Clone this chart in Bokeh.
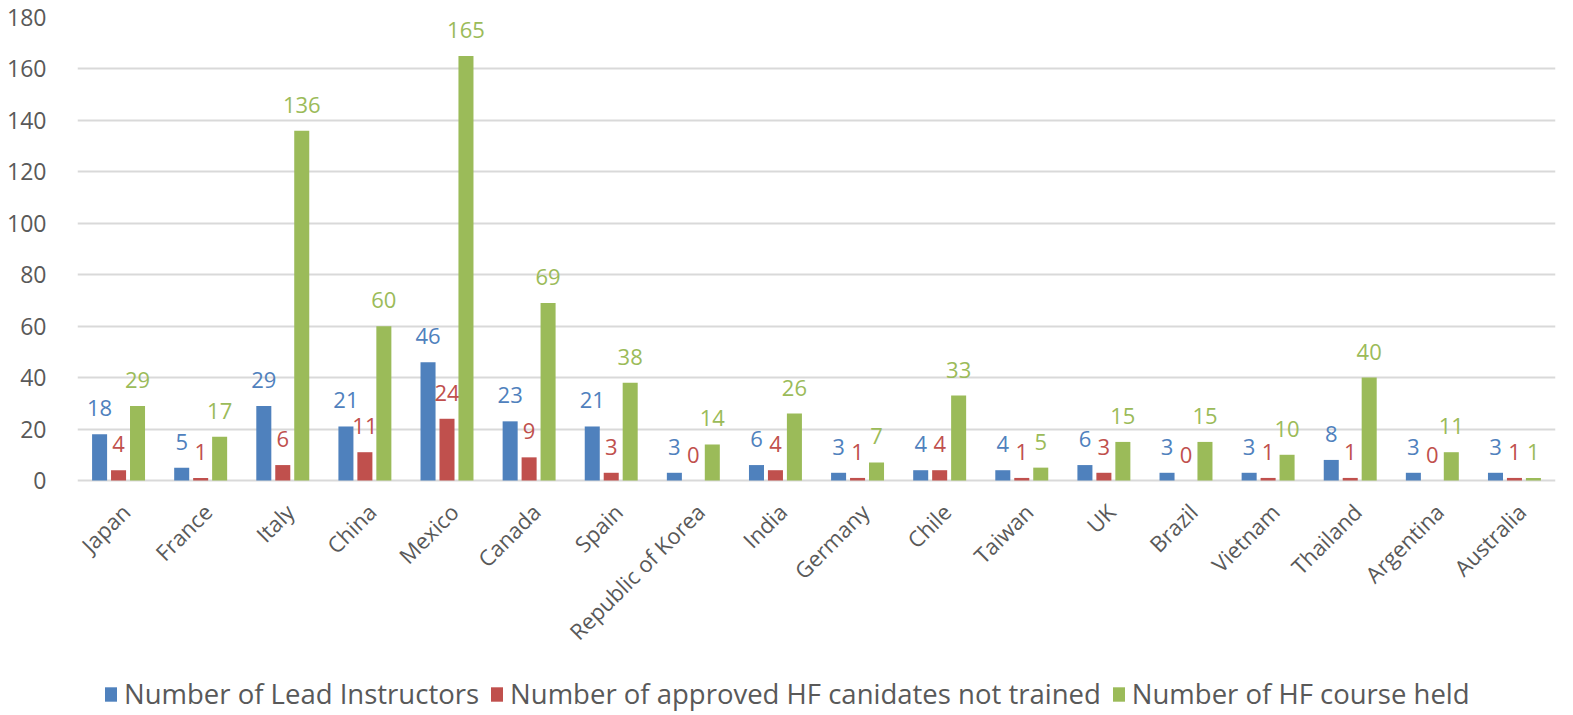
import math
from bokeh.plotting import figure
from bokeh.models import ColumnDataSource, Range1d, Legend, LegendItem, FixedTicker
from bokeh.transform import dodge
from bokeh.core.properties import value
from bokeh.embed import file_html
from bokeh.resources import INLINE

countries = ["Japan", "France", "Italy", "China", "Mexico", "Canada", "Spain",
             "Republic of Korea", "India", "Germany", "Chile", "Taiwan", "UK",
             "Brazil", "Vietnam", "Thailand", "Argentina", "Australia"]
lead_instructors = [18, 5, 29, 21, 46, 23, 21, 3, 6, 3, 4, 4, 6, 3, 3, 8, 3, 3]
not_trained = [4, 1, 6, 11, 24, 9, 3, 0, 4, 1, 4, 1, 3, 0, 1, 1, 0, 1]
courses_held = [29, 17, 136, 60, 165, 69, 38, 14, 26, 7, 33, 5, 15, 15, 10, 40, 11, 1]
y_ticks = list(range(0, 181, 20))
series_names = ["Number of Lead Instructors",
                "Number of approved HF canidates not trained",
                "Number of HF course held"]
colors = ["#4F81BD", "#C0504D", "#9BBB59"]

FONT = "Open Sans"
GRAY = "#595959"

n = len(countries)
src = ColumnDataSource(dict(
    x=list(range(n)),
    name=countries,
    a=lead_instructors, b=not_trained, c=courses_held,
    at=[str(v) for v in lead_instructors],
    bt=[str(v) for v in not_trained],
    ct=[str(v) for v in courses_held],
))

# frame reaches the page bottom so that category labels and legend can live inside it;
# value 0 sits 235 px above the frame bottom, 180 at the frame top (463 px for 180 units)
W, H, TOP, LEFT, RIGHT = 1573, 715, 17, 77, 18
px_per_unit = 463 / 180
y_min = -(H - TOP - 463) / px_per_unit

p = figure(width=W, height=H, x_range=Range1d(-0.5, n - 0.5),
           y_range=Range1d(y_min, 180), output_backend="svg", toolbar_location=None,
           x_axis_location=None,
           min_border_left=LEFT, min_border_right=RIGHT, min_border_top=TOP, min_border_bottom=0)
p.outline_line_color = None
p.background_fill_color = "white"

offs = [-0.231, 0.0, 0.231]
cols = ["a", "b", "c"]
tcols = ["at", "bt", "ct"]
renderers = []
for off, col, tcol, color in zip(offs, cols, tcols, colors):
    r = p.vbar(x=dodge("x", off), top=col, bottom=0, width=0.183, source=src,
               fill_color=color, line_color=None)
    renderers.append(r)
    p.text(x=dodge("x", off), y=col, text=tcol, source=src,
           text_color=color, text_font=value(FONT), text_font_size="22px",
           text_align="center", text_baseline="middle", y_offset=-26)

# rotated category labels
p.text(x="x", y=0, text="name", source=src, angle=math.pi / 4,
       text_align="right", text_baseline="middle", x_offset=7, y_offset=27,
       text_color=GRAY, text_font=value(FONT), text_font_size="22px")

p.yaxis.ticker = FixedTicker(ticks=y_ticks)
p.yaxis.axis_line_color = None
p.yaxis.major_tick_line_color = None
p.yaxis.minor_tick_line_color = None
p.yaxis.major_label_text_font = FONT
p.yaxis.major_label_text_font_size = "23px"
p.yaxis.major_label_text_color = GRAY
p.yaxis.major_label_standoff = 25

p.xgrid.grid_line_color = None
p.ygrid.grid_line_color = "#D9D9D9"
p.ygrid.grid_line_width = 2

legend = Legend(items=[LegendItem(label=s, renderers=[r]) for s, r in zip(series_names, renderers)],
                orientation="horizontal", location=(26, 3),
                label_text_font=FONT, label_text_font_size="27.5px", label_text_color=GRAY,
                glyph_width=15, glyph_height=18, spacing=10, label_standoff=6,
                border_line_color=None, background_fill_alpha=0, margin=0, padding=0)
p.add_layout(legend)

open("out.html", "w").write(file_html(p, INLINE))
